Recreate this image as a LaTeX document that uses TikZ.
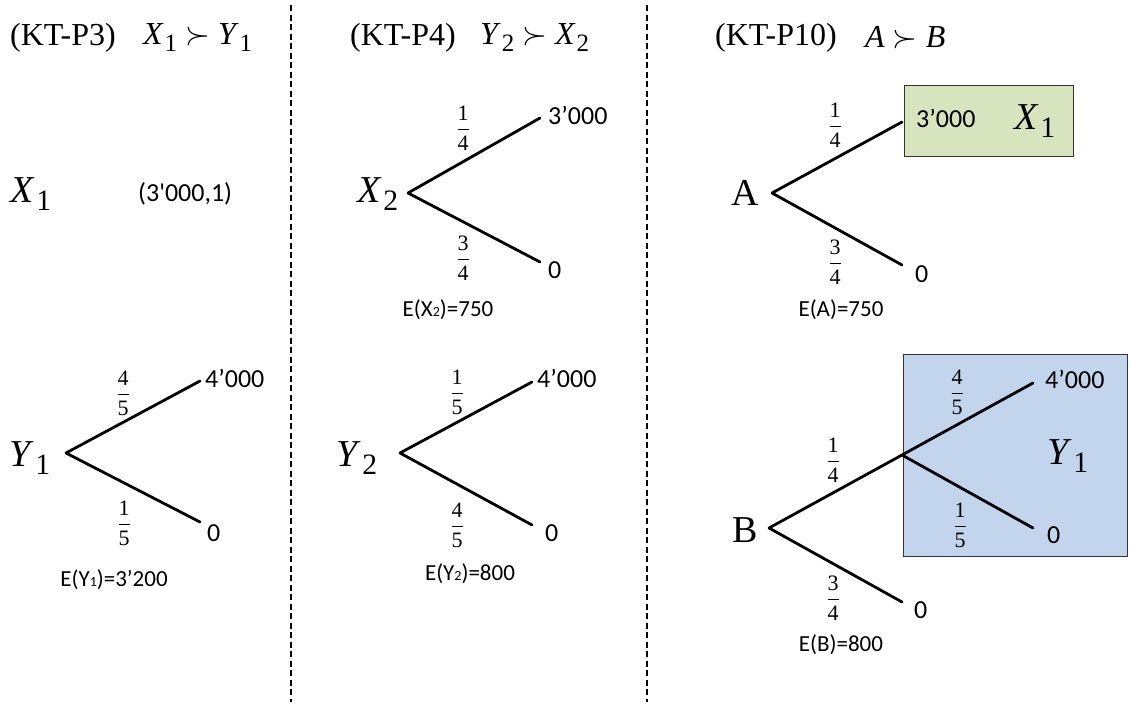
\RequirePackage{fix-cm}
\documentclass[tikz,border=0pt]{standalone}
\usepackage{amsmath}
\usepackage{fontspec}
\setmainfont{Liberation Serif}
\newfontfamily\numfont{Carlito}
\usepackage{xcolor}
\definecolor{boxgreen}{RGB}{215,228,189}
\definecolor{boxblue}{RGB}{195,213,236}
% lottery name with subscript, and a probability
\newcommand{\lotsym}[2]{\textit{#1}\kern0.03em\raisebox{-0.22em}{\scalebox{0.78}{#2}}}
\newcommand{\pr}[2]{$\dfrac{\text{#1}}{\text{#2}}$}

\begin{document}
\begin{tikzpicture}[x=1pt,y=-1pt]
    % Styles for labels, branches and boxes
    \tikzset{
      head/.style={anchor=west, inner sep=0pt, font=\fontsize{32}{36}\selectfont},
      lotname/.style={inner sep=0pt, font=\fontsize{38}{42}\selectfont},
      payoff/.style={anchor=west, inner sep=0pt, font=\numfont\fontsize{26}{30}\selectfont},
      prob/.style={inner sep=0pt, font=\fontsize{22}{24}\selectfont},
      expval/.style={inner sep=0pt, font=\numfont\fontsize{23}{26}\selectfont},
      branch/.style={line width=2.8pt, line cap=round},
      divider/.style={line width=1.8pt, dash pattern=on 6pt off 3.5pt},
      lotbox/.style={draw=black!80, line width=1.2pt}
    }
    \useasboundingbox (0,0) rectangle (1130,707);

    % Boxes behind the third panel
    \node[lotbox, fill=boxgreen, minimum width=169pt, minimum height=71pt, anchor=north west] (boxX) at (904,85) {};
    \node[lotbox, fill=boxblue, minimum width=224pt, minimum height=202pt, anchor=north west] (boxY) at (903,354) {};

    % Dividers
    \coordinate (d1t) at (291,5);
    \coordinate (d1b) at (291,702);
    \coordinate (d2t) at (647,5);
    \coordinate (d2b) at (647,702);
    \draw[divider] (d1t) -- (d1b);
    \draw[divider] (d2t) -- (d2b);

    % Headings
    \node[head] (kt3) at (10,38) {(KT-P3)};
    \node[head] (kt3p) at (143,38) {\lotsym{X}{1} $\succ$ \lotsym{Y}{1}};
    \node[head] (kt4) at (350,38) {(KT-P4)};
    \node[head] (kt4p) at (480,38) {\lotsym{Y}{2} $\succ$ \lotsym{X}{2}};
    \node[head] (kt10) at (715,38) {(KT-P10)};
    \node[head] (kt10p) at (865,38) {\textit{A} $\succ$ \textit{B}};

    % Panel KT-P3
    \node[lotname] (X1) at (31,194) {\lotsym{X}{1}};
    \node[payoff] (X1sure) at (138,194) {(3\textquotesingle000,1)};
    \node[lotname] (Y1) at (30,458) {\lotsym{Y}{1}};
    \coordinate (y1r) at (66,453);
    \coordinate (y1u) at (200,381);
    \coordinate (y1d) at (200,522);
    \draw[branch] (y1r) -- (y1u);
    \draw[branch] (y1r) -- (y1d);
    \node[payoff] (y1hi) at (205,378) {4’000};
    \node[payoff] (y1lo) at (207,533) {0};
    \node[prob] (y1p) at (123,393) {\pr{4}{5}};
    \node[prob] (y1q) at (124,523) {\pr{1}{5}};
    \node[expval] (EY1) at (114,580) {E(Y{\fontsize{14}{14}\selectfont 1})=3’200};

    % Panel KT-P4
    \node[lotname] (X2) at (378,194) {\lotsym{X}{2}};
    \coordinate (x2r) at (408,193);
    \coordinate (x2u) at (540,118);
    \coordinate (x2d) at (540,262);
    \draw[branch] (x2r) -- (x2u);
    \draw[branch] (x2r) -- (x2d);
    \node[payoff] (x2hi) at (548,115) {3’000};
    \node[payoff] (x2lo) at (548,270) {0};
    \node[prob] (x2p) at (463,128) {\pr{1}{4}};
    \node[prob] (x2q) at (463,258) {\pr{3}{4}};
    \node[expval] (EX2) at (448,310) {E(X{\fontsize{14}{14}\selectfont 2})=750};

    \node[lotname] (Y2) at (357,458) {\lotsym{Y}{2}};
    \coordinate (y2r) at (400,453);
    \coordinate (y2u) at (532,382);
    \coordinate (y2d) at (532,525);
    \draw[branch] (y2r) -- (y2u);
    \draw[branch] (y2r) -- (y2d);
    \node[payoff] (y2hi) at (537,378) {4’000};
    \node[payoff] (y2lo) at (545,533) {0};
    \node[prob] (y2p) at (457,392) {\pr{1}{5}};
    \node[prob] (y2q) at (457,525) {\pr{4}{5}};
    \node[expval] (EY2) at (470,574) {E(Y{\fontsize{14}{14}\selectfont 2})=800};

    % Panel KT-P10
    \node[lotname] (A) at (745,193) {A};
    \coordinate (ar) at (772,193);
    \coordinate (au) at (902,122);
    \coordinate (ad) at (902,265);
    \draw[branch] (ar) -- (au);
    \draw[branch] (ar) -- (ad);
    \node[payoff] (ahi) at (916,118) {3’000};
    \node[lotname] (AX1) at (1035,121) {\lotsym{X}{1}};
    \node[payoff] (alo) at (915,274) {0};
    \node[prob] (ap) at (835,125) {\pr{1}{4}};
    \node[prob] (aq) at (835,262) {\pr{3}{4}};
    \node[expval] (EA) at (841,310) {E(A)=750};

    \node[lotname] (B) at (745,530) {B};
    \coordinate (br) at (769,528);
    \coordinate (bm) at (902,455);
    \coordinate (bu) at (1033,383);
    \coordinate (bv) at (1033,528);
    \coordinate (bd) at (902,602);
    \draw[branch] (br) -- (bm);
    \draw[branch] (bm) -- (bu);
    \draw[branch] (bm) -- (bv);
    \draw[branch] (br) -- (bd);
    \node[payoff] (bhi) at (1045,379) {4’000};
    \node[lotname] (BY1) at (1068,456) {\lotsym{Y}{1}};
    \node[payoff] (bvlo) at (1047,535) {0};
    \node[payoff] (blo) at (914,610) {0};
    \node[prob] (bp) at (833,460) {\pr{1}{4}};
    \node[prob] (bq) at (833,598) {\pr{3}{4}};
    \node[prob] (bmp) at (957,392) {\pr{4}{5}};
    \node[prob] (bmq) at (960,525) {\pr{1}{5}};
    \node[expval] (EB) at (841,645) {E(B)=800};

\end{tikzpicture}
\end{document}
